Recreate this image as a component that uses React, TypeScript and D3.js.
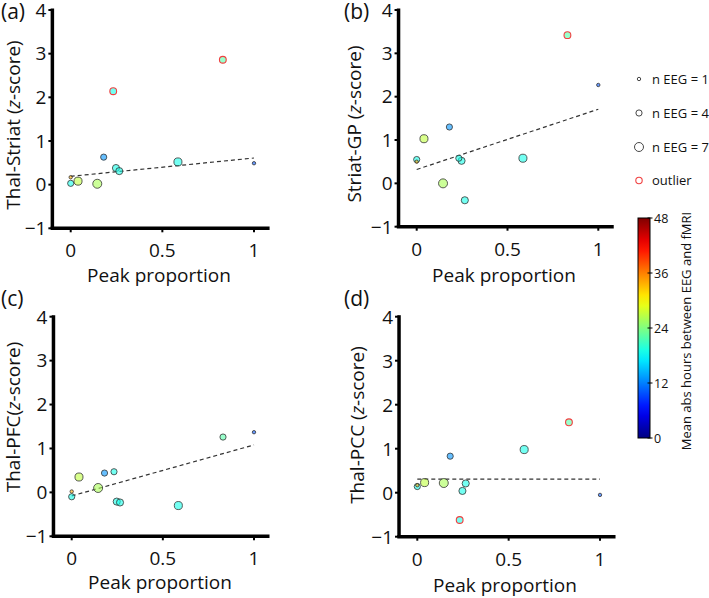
import React from "react";
import * as d3 from "d3";

// Per-subject attributes (shared by all panels)
const peakProportion = [0, 0, 0.04, 0.145, 0.18, 0.232, 0.247, 0.265, 0.585, 0.83, 1.0];
const nEEG = [1, 4, 6, 7, 4, 4, 5, 5, 6, 4, 1];
const meanAbsHours = [34, 19, 27, 26, 13, 19, 19, 19, 19, 22, 10];

// z-scores per panel
const thalStriat = [0.17, 0.03, 0.08, 0.02, 0.63, 2.14, 0.38, 0.31, 0.52, 2.86, 0.49];
const striatGP = [0.5, 0.55, 1.03, 0.0, 1.3, 0.58, 0.52, -0.39, 0.58, 3.42, 2.27];
const thalPFC = [0.02, -0.1, 0.35, 0.1, 0.44, 0.47, -0.21, -0.23, -0.3, 1.26, 1.37];
const thalPCC = [0.17, 0.14, 0.23, 0.22, 0.83, -0.62, 0.04, 0.21, 0.98, 1.6, -0.05];

// outlier flags (subject indices) per panel
const outliersA = [5, 9];
const outliersB = [9];
const outliersC: number[] = [];
const outliersD = [5, 9];

// regression line end values at x = 0 and x = 1
const fitA = [0.19, 0.61];
const fitB = [0.32, 1.71];
const fitC = [-0.08, 1.08];
const fitD = [0.31, 0.31];

const xTicks = [0, 0.5, 1];
const xTickLabels = ["0", "0.5", "1"];
const yTicks = [-1, 0, 1, 2, 3, 4];
const yTickLabels = ["\u22121", "0", "1", "2", "3", "4"];
const legendN = [1, 4, 7];
const cbTicks = [0, 12, 24, 36, 48];

const FONT = "'Open Sans', 'Noto Sans', sans-serif";

function jet(t: number) {
  const c = (v: number) => Math.max(0, Math.min(1, v));
  const r = c(1.5 - Math.abs(4 * t - 3));
  const g = c(1.5 - Math.abs(4 * t - 2));
  const b = c(1.5 - Math.abs(4 * t - 1));
  return d3.rgb(r * 255, g * 255, b * 255).formatHex();
}

const hourNorm = d3.scaleLinear().domain([0, 48]).range([0, 1]).clamp(true);
const rScale = d3.scaleLinear().domain([1, 7]).range([1.7, 4.5]);

type PanelDef = {
  letter: string;
  ylabel: React.ReactNode;
  values: number[];
  outliers: number[];
  fit: number[];
  x0: number; x1: number; yTop: number; yBot: number;
  letterX: number; letterY: number;
  ylabX: number; ylabY: number;
  xlabX: number; xlabY: number;
};

const panels: PanelDef[] = [
  {
    letter: "(a)", ylabel: <>Thal-Striat (<tspan fontStyle="italic">z</tspan>-score)</>,
    values: thalStriat, outliers: outliersA, fit: fitA,
    x0: 70.7, x1: 254, yTop: 10, yBot: 228.3,
    letterX: 1, letterY: 19, ylabX: 12.5, ylabY: 125, xlabX: 159, xlabY: 282,
  },
  {
    letter: "(b)", ylabel: <>Striat-GP (<tspan fontStyle="italic">z</tspan>-score)</>,
    values: striatGP, outliers: outliersB, fit: fitB,
    x0: 416.7, x1: 598.3, yTop: 10, yBot: 226.7,
    letterX: 344, letterY: 19, ylabX: 354, ylabY: 124, xlabX: 504, xlabY: 282,
  },
  {
    letter: "(c)", ylabel: <>Thal-PFC(<tspan fontStyle="italic">z</tspan>-score)</>,
    values: thalPFC, outliers: outliersC, fit: fitC,
    x0: 71.7, x1: 254, yTop: 316.7, yBot: 536.3,
    letterX: 1, letterY: 306, ylabX: 12.5, ylabY: 417, xlabX: 160, xlabY: 589,
  },
  {
    letter: "(d)", ylabel: <>Thal-PCC (<tspan fontStyle="italic">z</tspan>-score)</>,
    values: thalPCC, outliers: outliersD, fit: fitD,
    x0: 417.3, x1: 600, yTop: 316.7, yBot: 536.7,
    letterX: 344, letterY: 306, ylabX: 357, ylabY: 425, xlabX: 505, xlabY: 592,
  },
];

function Panel({ p }: { p: PanelDef }) {
  const x = d3.scaleLinear().domain([0, 1]).range([p.x0, p.x1]);
  const y = d3.scaleLinear().domain([-1, 4]).range([p.yBot, p.yTop]);
  const axisX = x(-0.1);
  const axisEnd = x(1.085);
  const line = d3.line<[number, number]>().x((d) => x(d[0])).y((d) => y(d[1]));
  const fitPts: [number, number][] = [[0, p.fit[0]], [1, p.fit[1]]];
  const order = peakProportion.map((_, i) => i).sort((a, b) => nEEG[b] - nEEG[a]);
  return (
    <g>
      <text x={p.letterX} y={p.letterY} fontSize={21} fontFamily={FONT} fill="#111">{p.letter}</text>
      {/* axes */}
      <line x1={axisX} x2={axisX} y1={y(4) - 1.5} y2={y(-1)} stroke="#000" strokeWidth={3.5} />
      <line x1={axisX - 1.75} x2={axisEnd} y1={y(-1)} y2={y(-1)} stroke="#000" strokeWidth={3.5} />
      {yTicks.map((t, i) => (
        <g key={"yt" + i}>
          <line x1={axisX - 4} x2={axisX} y1={y(t)} y2={y(t)} stroke="#000" strokeWidth={2} />
          <text x={axisX - 6} y={y(t) + 6.8} textAnchor="end" fontSize={19} fontFamily={FONT} fill="#111">{yTickLabels[i]}</text>
        </g>
      ))}
      {xTicks.map((t, i) => (
        <g key={"xt" + i}>
          <line x1={x(t)} x2={x(t)} y1={y(-1)} y2={y(-1) + 4} stroke="#000" strokeWidth={2} />
          <text x={x(t)} y={y(-1) + 29} textAnchor="middle" fontSize={19} fontFamily={FONT} fill="#111">{xTickLabels[i]}</text>
        </g>
      ))}
      <text x={p.xlabX} y={p.xlabY} textAnchor="middle" fontSize={19} fontFamily={FONT} fill="#111">Peak proportion</text>
      <text transform={`translate(${p.ylabX},${p.ylabY}) rotate(-90)`} textAnchor="middle" dominantBaseline="central" fontSize={19} fontFamily={FONT} fill="#111">{p.ylabel}</text>
      {/* fit line */}
      <path d={line(fitPts) || ""} fill="none" stroke="#333" strokeWidth={1.2} strokeDasharray="4,3" />
      {/* points */}
      {order.map((i) => {
        const out = p.outliers.includes(i);
        return (
          <circle key={i} cx={x(peakProportion[i])} cy={y(p.values[i])}
            r={out ? 3.4 : rScale(nEEG[i])}
            fill={jet(hourNorm(meanAbsHours[i]))} fillOpacity={0.6}
            stroke={out ? "#f04040" : "#333"} strokeWidth={out ? 1.1 : 0.8} />
        );
      })}
    </g>
  );
}

function Legend() {
  const ys = [79, 113, 147];
  return (
    <g fontFamily={FONT} fontSize={13} fill="#111">
      {legendN.map((n, i) => (
        <g key={n}>
          <circle cx={639} cy={ys[i]} r={rScale(n)} fill="none" stroke="#333" strokeWidth={0.9} />
          <text x={652} y={ys[i] + 4.6}>{`n EEG = ${n}`}</text>
        </g>
      ))}
      <circle cx={639} cy={180.5} r={3.2} fill="none" stroke="#f04040" strokeWidth={1.1} />
      <text x={652} y={185}>outlier</text>
    </g>
  );
}

function ColorBar() {
  const top = 218, bot = 438, left = 638, w = 12;
  const cy = d3.scaleLinear().domain([0, 48]).range([bot, top]);
  const stops = d3.range(0, 1.0001, 0.05);
  return (
    <g fontFamily={FONT}>
      <defs>
        <linearGradient id="jetGrad" x1="0" y1="1" x2="0" y2="0">
          {stops.map((s) => (
            <stop key={s} offset={s} stopColor={jet(s)} />
          ))}
        </linearGradient>
      </defs>
      <rect x={left} y={top} width={w} height={bot - top} fill="url(#jetGrad)" stroke="#000" strokeWidth={1} />
      {cbTicks.map((t) => (
        <g key={t}>
          <line x1={left + w - 2.5} x2={left + w + 2.5} y1={cy(t)} y2={cy(t)} stroke="#000" strokeWidth={1} />
          <text x={left + w + 4} y={cy(t) + 4.5} fontSize={12.5} fill="#111">{t}</text>
        </g>
      ))}
      <text transform={`translate(686,${(top + bot) / 2 + 3}) rotate(-90)`} textAnchor="middle" dominantBaseline="central" fontSize={13} fill="#111">
        Mean abs hours between EEG and fMRI
      </text>
    </g>
  );
}

export default function App() {
  return (
    <svg width={709} height={598} style={{ position: "absolute", left: 0, top: 0, background: "#fff" }}>
      <rect width={709} height={598} fill="#fff" />
      {panels.map((p) => (
        <Panel key={p.letter} p={p} />
      ))}
      <Legend />
      <ColorBar />
    </svg>
  );
}
